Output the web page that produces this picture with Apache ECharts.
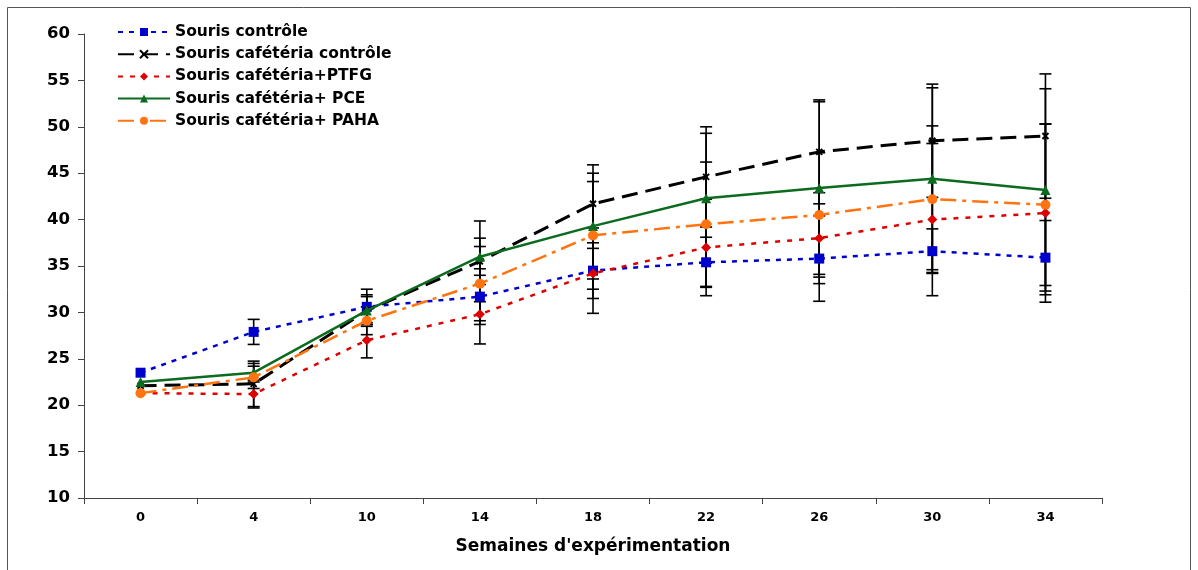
<!DOCTYPE html>
<html>
<head>
<meta charset="utf-8">
<script src="https://cdn.jsdelivr.net/npm/echarts@6/dist/echarts.min.js"></script>
<style>
  html, body { margin: 0; padding: 0; background: #fff; }
  #chart { width: 1198px; height: 570px; }
</style>
</head>
<body>
<div id="chart"></div>
<script>
// Weeks of the experiment (category axis)
const weeks = ['0', '4', '10', '14', '18', '22', '26', '30', '34'];

// Mean body weight (g) per group
const controle        = [23.5, 27.9, 30.6, 31.7, 34.5, 35.4, 35.8, 36.6, 35.9];
const cafControle     = [22.1, 22.3, 30.2, 35.5, 41.7, 44.6, 47.3, 48.5, 49.0];
const cafPTFG         = [21.3, 21.2, 27.0, 29.8, 34.2, 37.0, 38.0, 40.0, 40.7];
const cafPCE          = [22.5, 23.5, 30.2, 36.0, 39.3, 42.3, 43.4, 44.4, 43.2];
const cafPAHA         = [21.3, 23.0, 29.1, 33.1, 38.3, 39.5, 40.5, 42.2, 41.6];

// Standard errors per group (0 = no bar drawn)
const errControle     = [0, 1.35, 1.9, 3.0, 4.6, 2.7, 4.6, 2.4, 4.0];
const errCafControle  = [0, 2.45, 1.7, 4.35, 4.2, 5.4, 5.6, 6.1, 6.7];
const errCafPTFG      = [0, 1.5, 1.9, 3.2, 2.7, 5.2, 4.9, 8.2, 9.6];
const errCafPCE       = [0, 1.0, 1.5, 2.0, 5.7, 7.0, 9.3, 9.8, 10.9];
const errCafPAHA      = [0, 1.2, 1.5, 4.0, 5.8, 6.7, 6.7, 7.9, 8.7];

// Y axis range
const yMin = 10, yMax = 60, yStep = 5;

const groups = [
  { name: 'Souris contrôle',            data: controle,    err: errControle,    color: '#0000CC', dash: [5, 6],          width: 2.5, symbol: 'rect',     size: 10 },
  { name: 'Souris cafétéria contrôle',  data: cafControle, err: errCafControle, color: '#000000', dash: [16, 8],          width: 3,   symbol: 'path://M0,0L10,10M10,0L0,10', size: 6 },
  { name: 'Souris cafétéria+PTFG',      data: cafPTFG,     err: errCafPTFG,     color: '#DD0000', dash: [5, 7],          width: 2.5, symbol: 'diamond',  size: 10 },
  { name: 'Souris cafétéria+ PCE',      data: cafPCE,      err: errCafPCE,      color: '#0B6B1E', dash: 'solid',         width: 2.5, symbol: 'triangle', size: 10 },
  { name: 'Souris cafétéria+ PAHA',     data: cafPAHA,     err: errCafPAHA,     color: '#FF7410', dash: [16, 6, 4, 6],   width: 2.5, symbol: 'circle',   size: 10 }
];

const font = 'DejaVu Sans, Verdana, sans-serif';

const series = [];

// Error bars (drawn underneath the lines)
groups.forEach(g => {
  series.push({
    type: 'custom',
    name: g.name + ' err',
    z: 1,
    silent: true,
    data: g.data.map((v, i) => [i, v - g.err[i], v + g.err[i]]),
    renderItem: function (params, api) {
      if (api.value(2) - api.value(1) <= 0) return null;
      const i = api.value(0);
      const lo = api.coord([i, api.value(1)]);
      const hi = api.coord([i, api.value(2)]);
      const half = 6;
      const style = { stroke: '#000', lineWidth: 1.6, fill: null };
      return {
        type: 'group',
        children: [
          { type: 'line', shape: { x1: hi[0], y1: hi[1], x2: lo[0], y2: lo[1] }, style },
          { type: 'line', shape: { x1: hi[0] - half, y1: hi[1], x2: hi[0] + half, y2: hi[1] }, style },
          { type: 'line', shape: { x1: lo[0] - half, y1: lo[1], x2: lo[0] + half, y2: lo[1] }, style }
        ]
      };
    }
  });
});

// Group means
groups.forEach((g, k) => {
  series.push({
    type: 'line',
    name: g.name,
    z: 3 + k,
    data: g.data,
    symbol: g.symbol,
    symbolSize: g.size,
    showAllSymbol: true,
    lineStyle: { color: g.color, width: g.width, type: g.dash },
    itemStyle: {
      color: g.color,
      borderColor: g.color,
      borderWidth: g.symbol.startsWith('path') ? 2 : 0
    },
    emphasis: { disabled: true }
  });
});

const chart = echarts.init(document.getElementById('chart'), null, { renderer: 'canvas' });
chart.setOption({
  animation: false,
  backgroundColor: '#fff',
  graphic: [{
    type: 'rect',
    shape: { x: 7.5, y: 7.5, width: 1183, height: 575 },
    style: { fill: null, stroke: '#555', lineWidth: 1 },
    silent: true
  }],
  legend: {
    orient: 'vertical',
    left: 112,
    top: 18,
    itemWidth: 52,
    itemHeight: 10,
    itemGap: 4.2,
    data: groups.map(g => g.name),
    textStyle: { fontFamily: font, fontWeight: 'bold', fontSize: 15.5, color: '#000', lineHeight: 18 }
  },
  grid: { left: 84, right: 96, top: 34, bottom: 72, containLabel: false },
  xAxis: {
    type: 'category',
    data: weeks,
    boundaryGap: true,
    name: "Semaines d'expérimentation",
    nameLocation: 'middle',
    nameGap: 40,
    nameTextStyle: { fontFamily: font, fontWeight: 'bold', fontSize: 17, color: '#000' },
    axisLine: { lineStyle: { color: '#444', width: 1 } },
    axisTick: { show: true, length: 6, lineStyle: { color: '#444' } },
    axisLabel: { fontFamily: font, fontWeight: 'bold', fontSize: 13, color: '#000', margin: 13 },
    splitLine: { show: false }
  },
  yAxis: {
    type: 'value',
    min: yMin,
    max: yMax,
    interval: yStep,
    axisLine: { show: true, lineStyle: { color: '#444', width: 1 } },
    axisTick: { show: true, length: 6, lineStyle: { color: '#444' } },
    axisLabel: { fontFamily: font, fontWeight: 'bold', fontSize: 16.5, color: '#000', margin: 14 },
    splitLine: { show: false }
  },
  series: series
});
</script>
</body>
</html>
